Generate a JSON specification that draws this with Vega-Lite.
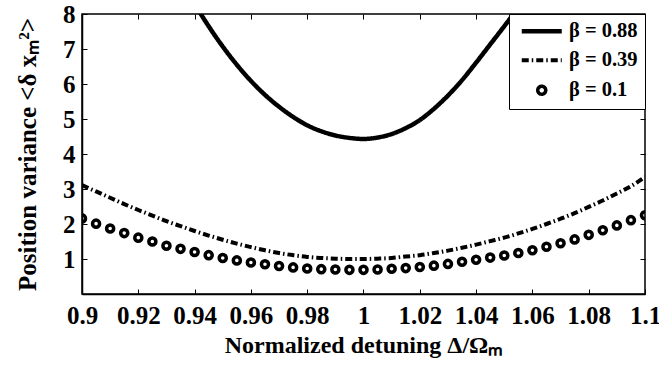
{
  "$schema": "https://vega.github.io/schema/vega-lite/v6.json",
  "autosize": {"type": "none"},
  "padding": {"left": 82, "top": 14, "right": 14, "bottom": 71},
  "width": 563,
  "height": 280,
  "background": "white",
  "config": {
    "view": {"stroke": "black", "strokeWidth": 1.5},
    "font": "Liberation Serif",
    "axis": {
      "domainColor": "black",
      "domainWidth": 1.5,
      "tickColor": "black",
      "tickWidth": 1,
      "tickSize": -5,
      "grid": false,
      "labelFont": "Liberation Serif",
      "labelFontWeight": "bold",
      "labelFontSize": 25,
      "labelColor": "black",
      "titleFont": "Liberation Serif",
      "titleFontWeight": "bold",
      "titleFontSize": 24,
      "titleColor": "black"
    }
  },
  "data": {
    "values": [
      {"x": 0.935, "v": 8.99, "series": "β = 0.88"},
      {"x": 0.940, "v": 8.29, "series": "β = 0.88"},
      {"x": 0.945, "v": 7.65, "series": "β = 0.88"},
      {"x": 0.950, "v": 7.07, "series": "β = 0.88"},
      {"x": 0.955, "v": 6.55, "series": "β = 0.88"},
      {"x": 0.960, "v": 6.09, "series": "β = 0.88"},
      {"x": 0.965, "v": 5.69, "series": "β = 0.88"},
      {"x": 0.970, "v": 5.35, "series": "β = 0.88"},
      {"x": 0.975, "v": 5.06, "series": "β = 0.88"},
      {"x": 0.980, "v": 4.82, "series": "β = 0.88"},
      {"x": 0.985, "v": 4.65, "series": "β = 0.88"},
      {"x": 0.990, "v": 4.53, "series": "β = 0.88"},
      {"x": 0.995, "v": 4.46, "series": "β = 0.88"},
      {"x": 1.000, "v": 4.43, "series": "β = 0.88"},
      {"x": 1.005, "v": 4.47, "series": "β = 0.88"},
      {"x": 1.010, "v": 4.57, "series": "β = 0.88"},
      {"x": 1.015, "v": 4.74, "series": "β = 0.88"},
      {"x": 1.020, "v": 4.97, "series": "β = 0.88"},
      {"x": 1.025, "v": 5.29, "series": "β = 0.88"},
      {"x": 1.030, "v": 5.67, "series": "β = 0.88"},
      {"x": 1.035, "v": 6.11, "series": "β = 0.88"},
      {"x": 1.040, "v": 6.61, "series": "β = 0.88"},
      {"x": 1.045, "v": 7.13, "series": "β = 0.88"},
      {"x": 1.050, "v": 7.65, "series": "β = 0.88"},
      {"x": 1.055, "v": 8.18, "series": "β = 0.88"},
      {"x": 1.060, "v": 8.72, "series": "β = 0.88"},

      {"x": 0.900, "v": 3.11, "series": "β = 0.39"},
      {"x": 0.905, "v": 2.93, "series": "β = 0.39"},
      {"x": 0.910, "v": 2.75, "series": "β = 0.39"},
      {"x": 0.915, "v": 2.57, "series": "β = 0.39"},
      {"x": 0.920, "v": 2.40, "series": "β = 0.39"},
      {"x": 0.925, "v": 2.24, "series": "β = 0.39"},
      {"x": 0.930, "v": 2.08, "series": "β = 0.39"},
      {"x": 0.935, "v": 1.94, "series": "β = 0.39"},
      {"x": 0.940, "v": 1.80, "series": "β = 0.39"},
      {"x": 0.945, "v": 1.67, "series": "β = 0.39"},
      {"x": 0.950, "v": 1.55, "series": "β = 0.39"},
      {"x": 0.955, "v": 1.44, "series": "β = 0.39"},
      {"x": 0.960, "v": 1.34, "series": "β = 0.39"},
      {"x": 0.965, "v": 1.25, "series": "β = 0.39"},
      {"x": 0.970, "v": 1.17, "series": "β = 0.39"},
      {"x": 0.975, "v": 1.11, "series": "β = 0.39"},
      {"x": 0.980, "v": 1.06, "series": "β = 0.39"},
      {"x": 0.985, "v": 1.03, "series": "β = 0.39"},
      {"x": 0.990, "v": 1.01, "series": "β = 0.39"},
      {"x": 0.995, "v": 1.00, "series": "β = 0.39"},
      {"x": 1.000, "v": 1.00, "series": "β = 0.39"},
      {"x": 1.005, "v": 1.01, "series": "β = 0.39"},
      {"x": 1.010, "v": 1.03, "series": "β = 0.39"},
      {"x": 1.015, "v": 1.07, "series": "β = 0.39"},
      {"x": 1.020, "v": 1.11, "series": "β = 0.39"},
      {"x": 1.025, "v": 1.17, "series": "β = 0.39"},
      {"x": 1.030, "v": 1.24, "series": "β = 0.39"},
      {"x": 1.035, "v": 1.32, "series": "β = 0.39"},
      {"x": 1.040, "v": 1.41, "series": "β = 0.39"},
      {"x": 1.045, "v": 1.51, "series": "β = 0.39"},
      {"x": 1.050, "v": 1.61, "series": "β = 0.39"},
      {"x": 1.055, "v": 1.73, "series": "β = 0.39"},
      {"x": 1.060, "v": 1.86, "series": "β = 0.39"},
      {"x": 1.065, "v": 2.00, "series": "β = 0.39"},
      {"x": 1.070, "v": 2.15, "series": "β = 0.39"},
      {"x": 1.075, "v": 2.31, "series": "β = 0.39"},
      {"x": 1.080, "v": 2.49, "series": "β = 0.39"},
      {"x": 1.085, "v": 2.67, "series": "β = 0.39"},
      {"x": 1.090, "v": 2.87, "series": "β = 0.39"},
      {"x": 1.095, "v": 3.08, "series": "β = 0.39"},
      {"x": 1.100, "v": 3.34, "series": "β = 0.39"},

      {"x": 0.900, "v": 2.16, "series": "β = 0.1"},
      {"x": 0.905, "v": 2.01, "series": "β = 0.1"},
      {"x": 0.910, "v": 1.87, "series": "β = 0.1"},
      {"x": 0.915, "v": 1.74, "series": "β = 0.1"},
      {"x": 0.920, "v": 1.61, "series": "β = 0.1"},
      {"x": 0.925, "v": 1.50, "series": "β = 0.1"},
      {"x": 0.930, "v": 1.38, "series": "β = 0.1"},
      {"x": 0.935, "v": 1.29, "series": "β = 0.1"},
      {"x": 0.940, "v": 1.20, "series": "β = 0.1"},
      {"x": 0.945, "v": 1.11, "series": "β = 0.1"},
      {"x": 0.950, "v": 1.03, "series": "β = 0.1"},
      {"x": 0.955, "v": 0.96, "series": "β = 0.1"},
      {"x": 0.960, "v": 0.90, "series": "β = 0.1"},
      {"x": 0.965, "v": 0.85, "series": "β = 0.1"},
      {"x": 0.970, "v": 0.80, "series": "β = 0.1"},
      {"x": 0.975, "v": 0.76, "series": "β = 0.1"},
      {"x": 0.980, "v": 0.73, "series": "β = 0.1"},
      {"x": 0.985, "v": 0.71, "series": "β = 0.1"},
      {"x": 0.990, "v": 0.70, "series": "β = 0.1"},
      {"x": 0.995, "v": 0.69, "series": "β = 0.1"},
      {"x": 1.000, "v": 0.69, "series": "β = 0.1"},
      {"x": 1.005, "v": 0.70, "series": "β = 0.1"},
      {"x": 1.010, "v": 0.72, "series": "β = 0.1"},
      {"x": 1.015, "v": 0.74, "series": "β = 0.1"},
      {"x": 1.020, "v": 0.77, "series": "β = 0.1"},
      {"x": 1.025, "v": 0.81, "series": "β = 0.1"},
      {"x": 1.030, "v": 0.86, "series": "β = 0.1"},
      {"x": 1.035, "v": 0.92, "series": "β = 0.1"},
      {"x": 1.040, "v": 0.98, "series": "β = 0.1"},
      {"x": 1.045, "v": 1.04, "series": "β = 0.1"},
      {"x": 1.050, "v": 1.10, "series": "β = 0.1"},
      {"x": 1.055, "v": 1.17, "series": "β = 0.1"},
      {"x": 1.060, "v": 1.25, "series": "β = 0.1"},
      {"x": 1.065, "v": 1.35, "series": "β = 0.1"},
      {"x": 1.070, "v": 1.45, "series": "β = 0.1"},
      {"x": 1.075, "v": 1.56, "series": "β = 0.1"},
      {"x": 1.080, "v": 1.69, "series": "β = 0.1"},
      {"x": 1.085, "v": 1.82, "series": "β = 0.1"},
      {"x": 1.090, "v": 1.96, "series": "β = 0.1"},
      {"x": 1.095, "v": 2.11, "series": "β = 0.1"},
      {"x": 1.100, "v": 2.25, "series": "β = 0.1"}
    ]
  },
  "layer": [
    {
      "transform": [{"filter": "datum.series !== 'β = 0.1'"}],
      "mark": {"type": "line", "color": "black", "clip": true, "strokeCap": "butt", "interpolate": "monotone"},
      "encoding": {
        "x": {
          "field": "x", "type": "quantitative",
          "scale": {"domain": [0.9, 1.1], "nice": false, "zero": false},
          "axis": {"orient": "top", "labels": false, "title": null, "domain": false, "tickSize": -5, "tickColor": "black",
                   "values": [0.9, 0.92, 0.94, 0.96, 0.98, 1.0, 1.02, 1.04, 1.06, 1.08, 1.1]}
        },
        "y": {
          "field": "v", "type": "quantitative",
          "scale": {"domain": [0, 8], "nice": false, "zero": false},
          "axis": {"orient": "right", "labels": false, "title": null, "domain": false, "tickSize": -5, "tickColor": "black",
                   "values": [1, 2, 3, 4, 5, 6, 7, 8]}
        },
        "strokeDash": {
          "field": "series", "type": "nominal",
          "scale": {"domain": ["β = 0.88", "β = 0.39", "β = 0.1"], "range": [[1, 0], [7, 3, 1.5, 3], [1, 0]]},
          "legend": {
            "title": null, "orient": "top-right", "offset": 0, "padding": 7, "rowPadding": 8,
            "fillColor": "white", "strokeColor": "black",
            "symbolSize": 64, "symbolOffset": 15.5, "labelOffset": 17,
            "labelFont": "Liberation Serif", "labelFontWeight": "bold", "labelFontSize": 20.5, "labelColor": "black",
            "symbolStrokeColor": "black", "symbolFillColor": "white"
          }
        },
        "strokeWidth": {
          "field": "series", "type": "nominal",
          "scale": {"domain": ["β = 0.88", "β = 0.39", "β = 0.1"], "range": [4.5, 3.5, 3]},
          "legend": {"title": null}
        },
        "detail": {"field": "series"}
      }
    },
    {
      "transform": [{"filter": "datum.series === 'β = 0.1'"}],
      "mark": {"type": "point", "color": "black", "filled": false, "clip": true, "opacity": 1, "size": 50},
      "encoding": {
        "x": {
          "field": "x", "type": "quantitative",
          "axis": {"orient": "bottom", "title": "Normalized detuning Δ/Ωₘ", "format": "~g",
                   "labelFont": "Liberation Serif", "labelFontWeight": "bold", "labelFontSize": 25, "labelColor": "black",
                   "titleFont": "Liberation Serif", "titleFontWeight": "bold", "titleFontSize": 24, "titleColor": "black",
                   "tickSize": -5, "tickColor": "black", "domainColor": "black", "domainWidth": 1.5,
                   "labelPadding": 14, "titlePadding": 5, "labelFlush": false, "labelBound": false,
                   "values": [0.9, 0.92, 0.94, 0.96, 0.98, 1.0, 1.02, 1.04, 1.06, 1.08, 1.1]}
        },
        "y": {
          "field": "v", "type": "quantitative",
          "axis": {"orient": "left", "title": "Position variance <δ xₘ²>",
                   "labelFont": "Liberation Serif", "labelFontWeight": "bold", "labelFontSize": 25, "labelColor": "black",
                   "titleFont": "Liberation Serif", "titleFontWeight": "bold", "titleFontSize": 25, "titleColor": "black",
                   "tickSize": -5, "tickColor": "black", "domainColor": "black", "domainWidth": 1.5,
                   "labelPadding": 12, "titlePadding": 22,
                   "labelFlush": false, "values": [1, 2, 3, 4, 5, 6, 7, 8]}
        },
        "shape": {
          "field": "series", "type": "nominal",
          "scale": {"domain": ["β = 0.88", "β = 0.39", "β = 0.1"], "range": ["M-5,0H5", "M-5,0H5", "circle"]},
          "legend": {"title": null}
        },
        "strokeWidth": {
          "field": "series", "type": "nominal",
          "legend": {"title": null}
        }
      }
    }
  ],
  "resolve": {"axis": {"x": "independent", "y": "independent"}}
}
